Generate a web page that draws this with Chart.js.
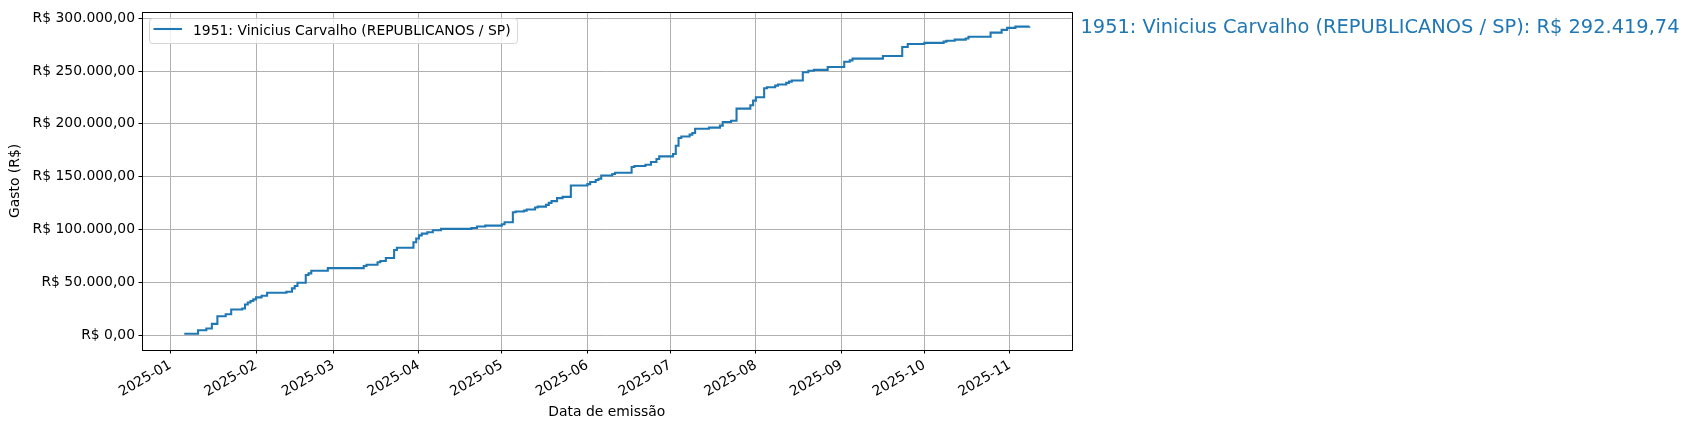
<!DOCTYPE html>
<html>
<head>
<meta charset="utf-8">
<script src="https://cdn.jsdelivr.net/npm/chart.js@4.4.0/dist/chart.umd.min.js"></script>
<style>
  html, body { margin: 0; padding: 0; background: #fff; }
  #wrap { width: 1691px; height: 430px; position: relative; }
</style>
</head>
<body>
<div id="wrap"><canvas id="gastosChart"></canvas></div>
<script>
const seriesLabel = '1951: Vinicius Carvalho (REPUBLICANOS / SP)';

// data de emissão de cada despesa (gasto acumulado passa a valer a partir dela)
const emissionDates = [
    '2025-01-06', '2025-01-11', '2025-01-14', '2025-01-16', '2025-01-18', '2025-01-21',
    '2025-01-23', '2025-01-27', '2025-01-28', '2025-01-29', '2025-01-30', '2025-01-31',
    '2025-02-01', '2025-02-03', '2025-02-05', '2025-02-12', '2025-02-14', '2025-02-15',
    '2025-02-16', '2025-02-19', '2025-02-20', '2025-02-21', '2025-02-27', '2025-03-12',
    '2025-03-13', '2025-03-17', '2025-03-18', '2025-03-20', '2025-03-23', '2025-03-24',
    '2025-03-30', '2025-03-31', '2025-04-01', '2025-04-02', '2025-04-04', '2025-04-06',
    '2025-04-09', '2025-04-20', '2025-04-22', '2025-04-25', '2025-05-01', '2025-05-02',
    '2025-05-05', '2025-05-06', '2025-05-09', '2025-05-10', '2025-05-13', '2025-05-14',
    '2025-05-17', '2025-05-18', '2025-05-19', '2025-05-21', '2025-05-23', '2025-05-26',
    '2025-06-01', '2025-06-02', '2025-06-04', '2025-06-05', '2025-06-06', '2025-06-10',
    '2025-06-11', '2025-06-17', '2025-06-18', '2025-06-22', '2025-06-24', '2025-06-26',
    '2025-06-27', '2025-07-02', '2025-07-03', '2025-07-04', '2025-07-05', '2025-07-08',
    '2025-07-09', '2025-07-10', '2025-07-15', '2025-07-19', '2025-07-20', '2025-07-23',
    '2025-07-25', '2025-07-30', '2025-07-31', '2025-08-01', '2025-08-04', '2025-08-05',
    '2025-08-08', '2025-08-09', '2025-08-12', '2025-08-13', '2025-08-14', '2025-08-18',
    '2025-08-20', '2025-08-22', '2025-08-27', '2025-09-02', '2025-09-04', '2025-09-05',
    '2025-09-16', '2025-09-23', '2025-09-25', '2025-10-01', '2025-10-08', '2025-10-09',
    '2025-10-12', '2025-10-16', '2025-10-17', '2025-10-25', '2025-10-29', '2025-10-31',
    '2025-11-03', '2025-11-08'
];

// gasto acumulado (R$)
const cumulativeSpend = [
    1450, 4700, 6400, 10700, 18000, 19900,
    24400, 25300, 29100, 31000, 32300, 33900,
    35800, 37300, 40100, 41100, 44300, 46500,
    49600, 56900, 58500, 61000, 63500, 65500,
    66700, 69000, 70200, 73100, 80600, 82800,
    88000, 91500, 94500, 96100, 97400, 99300,
    100600, 101500, 102800, 103700, 105000, 106900,
    116400, 117000, 117900, 118900, 120800, 121700,
    123300, 125200, 126900, 129700, 130900, 141700,
    143000, 144900, 146800, 148000, 151200, 152500,
    153700, 159100, 160100, 161300, 163900, 166700,
    169200, 171400, 179300, 186600, 188100, 189800,
    191400, 195400, 196400, 198300, 201800, 203000,
    214400, 217600, 222000, 225100, 233700, 234600,
    236200, 237200, 238800, 240000, 241000, 248900,
    250200, 251100, 253800, 258800, 260100, 261700,
    264200, 272800, 275600, 276600, 277800, 278700,
    279700, 280700, 282500, 286300, 288900, 290800,
    292000, 292419.74
];

const monthTicks = [
    '2025-01-01', '2025-02-01', '2025-03-01', '2025-04-01', '2025-05-01', '2025-06-01',
    '2025-07-01', '2025-08-01', '2025-09-01', '2025-10-01', '2025-11-01'
];
const spendTicks = [0, 50000, 100000, 150000, 200000, 250000, 300000];

const FONT = { family: "'DejaVu Sans'", size: 13.9 };
const LINE_W = 2.08;

//formata em reais: R$ 1.234,56
function brl(v) {
    let parts = Math.abs(v).toFixed(2).split('.');
    let intPart = parts[0].replace(/\B(?=(\d{3})+(?!\d))/g, '.');
    return 'R$ ' + (v < 0 ? '-' : '') + intPart + ',' + parts[1];
}

const points = emissionDates.map((d, i) => ({ x: Date.parse(d), y: cumulativeSpend[i] }));

//margem de 5% nos dois lados do eixo x, como no matplotlib
const xFirst = points[0].x, xLast = points[points.length - 1].x;
const xPad = (xLast - xFirst) * 0.05;

//moldura completa + legenda dentro do grafico
const frameAndLegend = {
    id: 'frameAndLegend',
    afterDatasetsDraw(chart) {
        const { ctx, chartArea: a } = chart;
        ctx.save();
        ctx.strokeStyle = '#000';
        ctx.lineWidth = 1;
        ctx.strokeRect(Math.round(a.left) + 0.5, Math.round(a.top) + 0.5,
            Math.round(a.right - a.left), Math.round(a.bottom - a.top));

        const ds = chart.data.datasets[0];
        ctx.font = '13.9px "DejaVu Sans"';
        const tw = ctx.measureText(ds.label).width;
        const bx = Math.round(a.left) + 7, by = Math.round(a.top) + 6;
        const bw = 5.6 + 27.8 + 11.1 + tw + 6, bh = 25;
        ctx.beginPath();
        ctx.roundRect(bx + 0.5, by + 0.5, bw, bh, 3);
        ctx.fillStyle = 'rgba(255,255,255,0.8)';
        ctx.fill();
        ctx.strokeStyle = 'rgba(204,204,204,0.8)';
        ctx.stroke();

        ctx.beginPath();
        ctx.strokeStyle = ds.borderColor;
        ctx.lineWidth = LINE_W;
        ctx.moveTo(bx + 4.5, by + 11);
        ctx.lineTo(bx + 33, by + 11);
        ctx.stroke();

        ctx.fillStyle = '#000';
        ctx.textBaseline = 'alphabetic';
        ctx.fillText(ds.label, bx + 44, by + 17);
        ctx.restore();
    },
    afterDraw(chart) {
        //texto com o total ao lado direito
        const { ctx, chartArea: a } = chart;
        const ds = chart.data.datasets[0];
        const last = ds.data[ds.data.length - 1];
        const y = chart.scales.y.getPixelForValue(last.y);
        ctx.save();
        ctx.font = '19.4px "DejaVu Sans"';
        ctx.fillStyle = ds.borderColor;
        ctx.textBaseline = 'alphabetic';
        ctx.fillText(ds.label + ': ' + brl(last.y), a.right + 9, y + 7);
        ctx.restore();
    }
};

Chart.defaults.font.family = FONT.family;
Chart.defaults.font.size = FONT.size;
Chart.defaults.color = '#000';

const config = {
    type: 'line',
    data: {
        datasets: [{
            label: seriesLabel,
            data: points,
            borderColor: '#1f77b4',
            backgroundColor: '#1f77b4',
            borderWidth: LINE_W,
            pointRadius: 0,
            stepped: true,
            fill: false
        }]
    },
    options: {
        responsive: true,
        maintainAspectRatio: false,
        animation: false,
        events: [],
        layout: { padding: { top: 11, right: 619.5, left: 0, bottom: 0 } },
        plugins: {
            legend: { display: false },
            tooltip: { enabled: false }
        },
        scales: {
            x: {
                type: 'linear',
                min: xFirst - xPad,
                max: xLast + xPad,
                afterBuildTicks: (s) => { s.ticks = monthTicks.map(d => ({ value: Date.parse(d) })); },
                afterFit: (s) => { s.height = 80; },
                ticks: {
                    callback: (v) => new Date(v).toISOString().slice(0, 7),
                    maxRotation: 30,
                    minRotation: 30,
                    autoSkip: false,
                    padding: 3.5,
                    color: '#000',
                    font: FONT
                },
                grid: { color: '#b0b0b0', lineWidth: 1, tickColor: '#000', tickLength: 3.5 },
                border: { display: false },
                title: { display: true, text: 'Data de emissão', color: '#000', font: FONT, padding: { top: 0, bottom: 9 } }
            },
            y: {
                type: 'linear',
                min: -14000,
                max: 306000,
                afterBuildTicks: (s) => { s.ticks = spendTicks.map(v => ({ value: v })); },
                afterFit: (s) => { s.width = 142; },
                ticks: {
                    callback: (v) => brl(v),
                    padding: 3.5,
                    color: '#000',
                    font: FONT
                },
                grid: { color: '#b0b0b0', lineWidth: 1, tickColor: '#000', tickLength: 3.5 },
                border: { display: false },
                title: { display: true, text: 'Gasto (R$)', color: '#000', font: FONT, padding: { top: 7, bottom: 0 } }
            }
        }
    },
    plugins: [frameAndLegend]
};

let ctx = document.getElementById('gastosChart').getContext('2d');
var gastosChart = new Chart(ctx, config);
</script>
</body>
</html>
